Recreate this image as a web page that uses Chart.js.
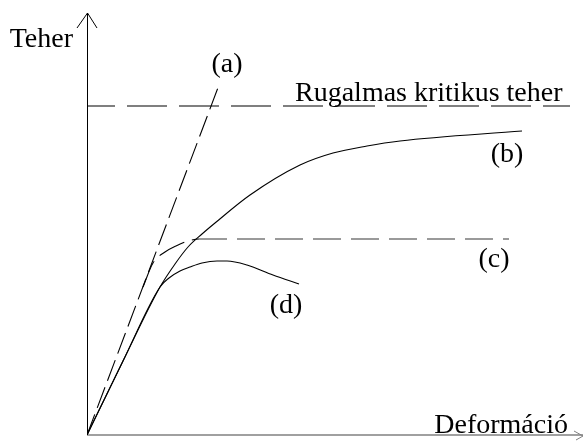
<!DOCTYPE html>
<html><head><meta charset="utf-8">
<script src="https://cdn.jsdelivr.net/npm/chart.js@4"></script>
<style>html,body{margin:0;padding:0;background:#fff}#wrap{width:584px;height:441px;position:relative}</style>
</head><body><div id="wrap"><canvas id="c"></canvas></div>
<script>
// Axis titles and labels
const yAxisTitle = 'Teher';
const xAxisTitle = 'Deformáció';
const criticalLabel = 'Rugalmas kritikus teher';
const curveLabels = ['(a)', '(b)', '(c)', '(d)'];

// Elastic critical load (horizontal dashed line)
const criticalLoad = 329;
const criticalX = [0, 483];

// (a) linear elastic
const aX = [0, 132];
const aY = [0, 350];
// (b) post-critical strengthening
const bX = [0, 36, 73, 88, 101, 115, 128, 163, 213, 246, 280, 313, 435];
const bY = [0, 74, 148, 171, 188, 201, 212, 240, 270, 282, 289, 294, 304];
// (c) ideal plastic plateau
const cX = [56, 66, 78, 89, 101, 112, 422];
const cY = [148, 172, 183, 189, 194, 196, 196];
// (d) softening
const dX = [0, 36, 73, 82, 93, 103, 115, 130, 140, 160, 186, 212];
const dY = [0, 74, 148, 157, 164, 168, 172, 174, 174, 170, 160, 151];

const pts = (xs, ys) => xs.map((x, i) => ({x, y: ys[i]}));

const FONT = '28px "Liberation Serif", "Times New Roman", serif';

const decor = {
  id: 'decor',
  beforeDatasetsDraw(chart) {
    const {ctx, chartArea: ca} = chart;
    ctx.save();
    // y axis
    ctx.strokeStyle = '#000'; ctx.lineWidth = 1;
    ctx.beginPath();
    ctx.moveTo(ca.left + 0.5, ca.bottom); ctx.lineTo(ca.left + 0.5, ca.top);
    ctx.moveTo(ca.left - 10, ca.top + 15); ctx.lineTo(ca.left + 0.5, ca.top); ctx.lineTo(ca.left + 10, ca.top + 15);
    ctx.stroke();
    // x axis
    ctx.strokeStyle = '#808080'; ctx.lineWidth = 1.6;
    ctx.beginPath();
    ctx.moveTo(ca.left, ca.bottom); ctx.lineTo(ca.right, ca.bottom);
    ctx.stroke();
    ctx.lineWidth = 1;
    ctx.beginPath();
    ctx.moveTo(ca.right - 9, ca.bottom - 4); ctx.lineTo(ca.right, ca.bottom + 1); ctx.lineTo(ca.right - 7, ca.bottom + 5);
    ctx.stroke();
    ctx.restore();
  },
  afterDatasetsDraw(chart) {
    const {ctx, scales: {x, y}} = chart;
    ctx.save();
    ctx.fillStyle = '#000';
    ctx.font = FONT;
    ctx.textBaseline = 'alphabetic';
    const put = (t, dx, dy, align) => {
      ctx.textAlign = align;
      ctx.fillText(t, x.getPixelForValue(dx), y.getPixelForValue(dy));
    };
    put(yAxisTitle, -14, 388, 'right');
    put(xAxisTitle, 481, 2, 'right');
    put(criticalLabel, 208, criticalLoad + 5, 'left');
    put(curveLabels[0], aX[1] + 8, aY[1] + 13, 'center');
    put(curveLabels[1], 420, 273, 'center');
    put(curveLabels[2], 407, 168, 'center');
    put(curveLabels[3], 199, 122, 'center');
    ctx.restore();
  }
};

const base = {pointRadius: 0, fill: false, cubicInterpolationMode: 'monotone', borderColor: '#000', borderWidth: 1.1};

new Chart(document.getElementById('c'), {
  type: 'line',
  data: {
    datasets: [
      {...base, label: 'crit', data: pts(criticalX, [criticalLoad, criticalLoad]), borderDash: [40, 12], borderDashOffset: 12},
      {...base, label: '(a)', data: pts(aX, aY), borderDash: [22, 7]},
      {...base, label: '(b)', data: pts(bX, bY)},
      {...base, label: '(c)', data: pts(cX, cY), borderDash: [28, 8],
        segment: {
          borderColor: s => s.p0.parsed.x >= 112 ? '#7a7a7a' : '#000',
          borderWidth: s => s.p0.parsed.x >= 112 ? 1.7 : 1.1,
          borderDash: s => s.p0.parsed.x >= 112 ? [28, 10] : [28, 8]
        }},
      {...base, label: '(d)', data: pts(dX, dY)}
    ]
  },
  options: {
    responsive: true, maintainAspectRatio: false, animation: false,
    layout: {padding: {left: 87, right: 1, top: 13, bottom: 6}},
    plugins: {legend: {display: false}, tooltip: {enabled: false}},
    scales: {
      x: {type: 'linear', display: false, min: 0, max: 496},
      y: {type: 'linear', display: false, min: 0, max: 422}
    }
  },
  plugins: [decor]
});
</script>
</body></html>
